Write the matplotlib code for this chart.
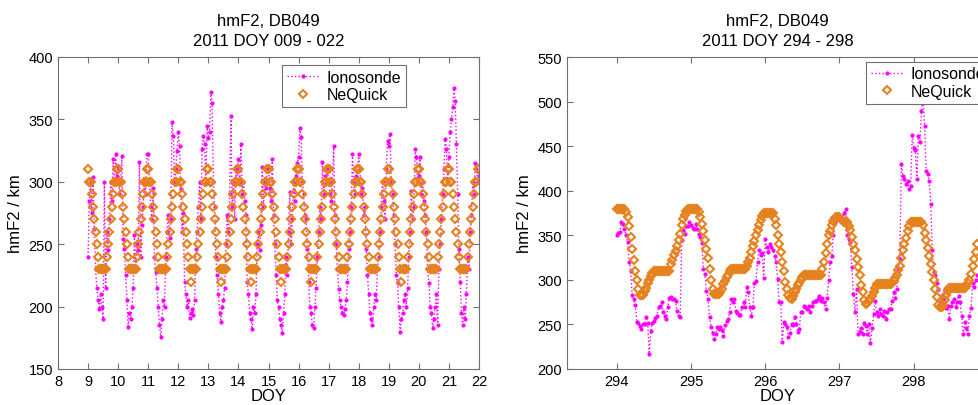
import numpy as np
import matplotlib
matplotlib.use('Agg')
import matplotlib.pyplot as plt

plt.rcParams['font.family'] = ['Liberation Sans', 'DejaVu Sans']

# ---- left panel: DOY 009 - 022, hourly values ----
ion_left = [
    240, 285, 300, 275, 304, 262, 230, 215, 205, 198, 210, 200, 190, 300, 215, 260, 245, 270, 300, 285, 318, 300, 322, 305,  # 9
    313, 290, 300, 321, 254, 246, 225, 205, 184, 195, 190, 200, 215, 257, 230, 250, 245, 316, 240, 265, 280, 300, 290, 322,  # 10
    322, 300, 280, 269, 295, 240, 228, 215, 200, 185, 176, 190, 205, 200, 240, 260, 273, 255, 270, 348, 337, 300, 310, 325,  # 11
    340, 329, 294, 260, 275, 220, 210, 200, 205, 191, 195, 198, 193, 205, 246, 260, 280, 300, 270, 326, 337, 330, 300, 345,  # 12
    335, 340, 372, 363, 300, 280, 240, 225, 210, 195, 188, 200, 205, 215, 250, 273, 260, 290, 353, 280, 300, 270, 310, 300,  # 13
    318, 300, 330, 290, 300, 285, 273, 220, 210, 195, 190, 182, 200, 195, 210, 250, 260, 245, 265, 312, 280, 300, 295, 310,  # 14
    310, 295, 285, 318, 273, 250, 225, 205, 200, 190, 185, 179, 195, 210, 240, 225, 260, 292, 250, 270, 300, 285, 305, 315,  # 15
    320, 343, 336, 300, 290, 273, 270, 246, 220, 200, 195, 185, 183, 200, 215, 240, 260, 280, 270, 316, 290, 305, 300, 310,  # 16
    300, 290, 285, 300, 329, 273, 250, 230, 214, 205, 200, 195, 193, 198, 205, 220, 246, 260, 280, 322, 300, 290, 305, 300,  # 17
    322, 310, 290, 295, 273, 280, 246, 225, 210, 195, 190, 185, 200, 210, 205, 230, 240, 260, 280, 300, 285, 270, 310, 333,  # 18
    329, 338, 300, 290, 273, 250, 225, 219, 200, 180, 190, 195, 205, 210, 200, 215, 240, 260, 293, 270, 280, 326, 320, 300,  # 19
    305, 320, 290, 300, 285, 273, 260, 230, 219, 200, 195, 183, 190, 200, 210, 185, 230, 250, 270, 290, 310, 334, 326, 300,  # 20
    320, 340, 350, 360, 375, 365, 330, 290, 246, 220, 195, 185, 200, 190, 210, 240, 230, 260, 273, 300, 290, 315, 310, 300,  # 21
    305,                                                                                                                    # 22
]
neq_left = [
    310, 300, 300, 290, 280, 270, 260, 250, 240, 230, 230, 230, 230, 230, 230, 240, 250, 260, 270, 280, 290, 300, 300, 310,  # 9
    310, 300, 300, 290, 280, 270, 260, 250, 240, 230, 230, 230, 230, 230, 230, 240, 250, 260, 270, 280, 290, 300, 300, 310,  # 10
    310, 300, 300, 290, 280, 270, 260, 250, 240, 230, 230, 230, 230, 230, 230, 240, 250, 260, 270, 280, 290, 300, 300, 310,  # 11
    310, 300, 300, 290, 280, 270, 260, 250, 240, 230, 220, 230, 230, 230, 230, 240, 250, 260, 270, 280, 290, 300, 300, 310,  # 12
    310, 300, 300, 290, 280, 270, 260, 250, 240, 230, 220, 230, 230, 230, 230, 240, 250, 260, 270, 280, 290, 300, 300, 310,  # 13
    310, 300, 300, 290, 280, 270, 260, 250, 240, 230, 220, 230, 230, 230, 230, 240, 250, 260, 270, 280, 290, 300, 300, 310,  # 14
    310, 300, 300, 290, 280, 270, 260, 250, 240, 230, 220, 230, 230, 230, 230, 240, 250, 260, 270, 280, 290, 300, 300, 310,  # 15
    310, 300, 300, 290, 280, 270, 260, 250, 240, 230, 220, 230, 230, 230, 230, 240, 250, 260, 270, 280, 290, 300, 300, 310,  # 16
    310, 300, 300, 290, 280, 270, 260, 250, 240, 230, 230, 230, 230, 230, 230, 240, 250, 260, 270, 280, 290, 300, 300, 310,  # 17
    310, 300, 300, 290, 280, 270, 260, 250, 240, 230, 230, 230, 230, 230, 230, 240, 250, 260, 270, 280, 290, 300, 300, 310,  # 18
    310, 300, 300, 290, 280, 270, 260, 250, 240, 230, 220, 230, 230, 230, 230, 240, 250, 260, 270, 280, 290, 300, 300, 310,  # 19
    310, 300, 300, 290, 280, 270, 260, 250, 240, 230, 230, 230, 230, 230, 230, 240, 250, 260, 270, 280, 290, 300, 300, 310,  # 20
    310, 300, 300, 290, 280, 270, 260, 250, 240, 230, 230, 230, 230, 230, 230, 240, 250, 260, 270, 280, 290, 300, 300, 310,  # 21
    310,                                                                                                                    # 22
]

# ---- right panel: DOY 294 - 298, half-hourly values ----
ion_right = [
    350, 353, 354, 365, 363, 357, 350, 343, 320, 310, 283, 278, 272, 253, 252, 248, 245, 250, 251, 258, 252, 217, 243, 252,
    254, 257, 260, 269, 271, 275, 264, 260, 256, 269, 280, 281, 279, 278, 276, 265, 260, 258, 345, 356, 352, 360, 360, 365,  # 294
    362, 358, 357, 363, 357, 352, 348, 341, 312, 307, 287, 279, 258, 247, 240, 234, 239, 247, 245, 247, 244, 237, 249, 254,
    256, 264, 279, 275, 279, 265, 263, 261, 261, 270, 275, 269, 292, 286, 269, 260, 269, 297, 299, 320, 333, 328, 330, 302,  # 295
    346, 337, 331, 340, 337, 333, 327, 320, 301, 275, 275, 230, 253, 250, 247, 236, 240, 251, 249, 258, 251, 241, 245, 264,
    264, 271, 269, 267, 271, 264, 271, 275, 276, 276, 278, 282, 276, 280, 275, 267, 280, 300, 320, 327, 350, 365, 372, 370,  # 296
    369, 368, 367, 375, 380, 350, 346, 342, 314, 284, 264, 290, 239, 241, 246, 239, 252, 248, 239, 250, 229, 246, 262, 276,
    264, 260, 267, 262, 260, 265, 256, 264, 267, 267, 276, 286, 280, 290, 312, 323, 430, 417, 413, 408, 411, 402, 405, 463,  # 297
    448, 446, 413, 461, 455, 489, 508, 473, 422, 419, 411, 385, 333, 309, 305, 296, 290, 275, 282, 278, 290, 268, 271, 256,
    271, 275, 278, 269, 275, 282, 275, 260, 239, 253, 246, 239, 260, 268, 296, 292, 300, 305,                                # 298
]
neq_right = [
    380, 380, 380, 380, 380, 380, 376, 370, 360, 348, 335, 322, 310, 300, 290, 283, 283, 283, 287, 291, 296, 300, 304, 308,
    310, 310, 310, 310, 310, 310, 310, 310, 310, 310, 310, 318, 322, 328, 332, 338, 345, 352, 362, 368, 373, 377, 380, 380,  # 294
    380, 380, 380, 380, 380, 376, 370, 363, 355, 345, 335, 324, 312, 300, 290, 284, 284, 284, 284, 286, 290, 295, 299, 303,
    306, 310, 312, 312, 312, 312, 312, 312, 312, 312, 312, 312, 316, 320, 325, 331, 338, 344, 350, 356, 362, 367, 372, 375,  # 295
    375, 375, 375, 375, 375, 375, 368, 361, 350, 340, 331, 320, 310, 298, 290, 283, 280, 278, 282, 286, 290, 294, 297, 300,
    303, 305, 305, 305, 305, 305, 305, 305, 305, 305, 305, 305, 305, 312, 320, 330, 340, 350, 355, 362, 366, 369, 371, 370,  # 296
    370, 368, 366, 365, 365, 365, 360, 356, 348, 340, 333, 323, 314, 305, 294, 286, 277, 273, 274, 276, 278, 282, 286, 291,
    295, 295, 295, 295, 295, 295, 295, 295, 295, 295, 296, 299, 302, 306, 311, 316, 325, 333, 340, 347, 355, 360, 365, 365,  # 297
    365, 365, 365, 365, 365, 365, 362, 353, 345, 336, 327, 318, 309, 300, 290, 281, 272, 270, 270, 272, 277, 283, 287, 291,
    291, 291, 291, 291, 291, 291, 291, 291, 291, 291, 293, 296, 300, 307, 316, 323, 331, 340,                                # 298
]

MAGENTA = '#FF00FF'
ORANGE = '#E6821E'
SPINE = '#707070'


def draw_panel(ax, doy, ion, neq, title, xlim, ylim, xticks, yticks, leg_anchor):
    ax.plot(doy, ion, ':', color=MAGENTA, lw=1.0, marker='.', ms=4, label='Ionosonde')
    ax.plot(doy, neq, 'D', color=ORANGE, mfc='none', mec=ORANGE, mew=1.5, ms=3.8,
            ls='none', label='NeQuick')
    ax.set_xlim(xlim)
    ax.set_ylim(ylim)
    ax.set_xticks(xticks)
    ax.set_yticks(yticks)
    ax.tick_params(direction='in', top=True, right=True, length=4, width=0.8,
                   color=SPINE, labelsize=10.5, pad=3.5)
    for s in ax.spines.values():
        s.set_color(SPINE)
        s.set_linewidth(0.8)
    ax.set_title(title, fontsize=12, linespacing=1.35, pad=9)
    ax.set_xlabel('DOY', fontsize=12, labelpad=0)
    ax.set_ylabel('hmF2 / km', fontsize=12, labelpad=4)
    leg = ax.legend(loc='upper left', bbox_to_anchor=leg_anchor, numpoints=1,
                    fontsize=11.5, fancybox=False, framealpha=1, edgecolor=SPINE,
                    borderpad=0.3, labelspacing=0.15, handlelength=2.0,
                    handletextpad=0.5, borderaxespad=0)
    leg.get_frame().set_linewidth(0.8)


fig = plt.figure(figsize=(9.79, 4.06), dpi=100)
ax1 = fig.add_axes([58 / 979, 36 / 406, 421 / 979, 312 / 406])
ax2 = fig.add_axes([567 / 979, 36 / 406, 421 / 979, 312 / 406])

doy_left = 9 + np.arange(len(ion_left)) / 24
doy_right = 294 + np.arange(len(ion_right)) / 48

draw_panel(ax1, doy_left, ion_left, neq_left, 'hmF2, DB049\n2011 DOY 009 - 022',
           (8, 22), (150, 400), range(8, 23), range(150, 401, 50), (0.532, 0.974))
draw_panel(ax2, doy_right, ion_right, neq_right, 'hmF2, DB049\n2011 DOY 294 - 298',
           (293.33, 299), (200, 550), range(294, 299), range(200, 551, 50), (0.71, 0.985))

fig.savefig('out.png', dpi=100)
